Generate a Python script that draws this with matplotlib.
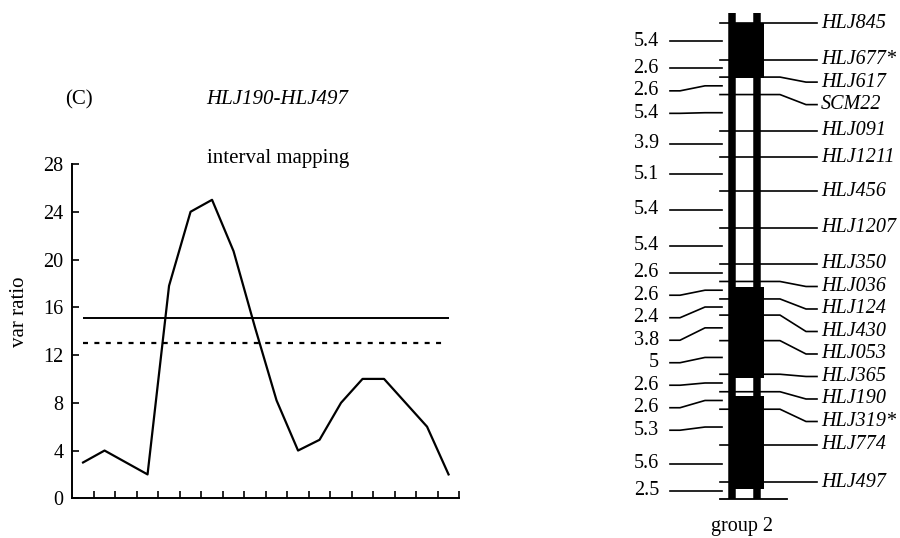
import numpy as np
import matplotlib
matplotlib.use("Agg")
import matplotlib.pyplot as plt

plt.rcParams['font.family'] = ['Liberation Serif', 'DejaVu Serif']
plt.rcParams['lines.scale_dashes'] = False

# ---------------- data: interval mapping (left) ----------------
positions = list(range(18))
var_ratio = [3.0, 4.0, 3.0, 2.0, 17.8, 24.0, 25.0, 20.7, 14.3, 8.2,
             4.0, 4.9, 8.0, 10.0, 10.0, 8.0, 6.0, 2.0]
threshold_solid = 15.1
threshold_dashed = 13.0
yticks = [0, 4, 8, 12, 16, 20, 24, 28]

# ---------------- data: linkage group 2 (right) ----------------
markers = ["HLJ845", "HLJ677*", "HLJ617", "SCM22", "HLJ091", "HLJ1211",
           "HLJ456", "HLJ1207", "HLJ350", "HLJ036", "HLJ124", "HLJ430",
           "HLJ053", "HLJ365", "HLJ190", "HLJ319*", "HLJ774", "HLJ497"]
intervals = [5.4, 2.6, 2.6, 5.4, 3.9, 5.1, 5.4, 5.4, 2.6, 2.6, 2.4, 3.8,
             5.0, 2.6, 2.6, 5.3, 5.6, 2.5]
qtl_blocks = [(0.0, 8.1), (39.2, 52.8), (55.5, 69.2)]

W, H = 900, 538
fig = plt.figure(figsize=(W / 100, H / 100), dpi=100)

def px(x, y):
    return x / W, 1 - y / H

# ---------------- map axes (full figure, x in pixels, y in cM) ----------------
marker_pos = np.concatenate([[0.0], np.cumsum(intervals)[:-1]])
group_end = float(np.sum(intervals))
top_px, end_px = 23.3, 499.3
scale = (end_px - top_px) / group_end  # px per cM
axm = fig.add_axes([0, 0, 1, 1])
axm.set_xlim(0, W)
axm.set_ylim((H - top_px) / scale, -top_px / scale)
axm.axis('off')
axm.patch.set_visible(False)

def spread(vals, gap):
    out = []
    for v in vals:
        if out and v < out[-1] + gap:
            v = out[-1] + gap
        out.append(v)
    return out

gap = 22.5 / scale
mids = [(a + b) / 2 for a, b in zip(marker_pos, list(marker_pos[1:]) + [group_end])]
left_lab = spread(mids, gap)
right_lab = spread(list(marker_pos), gap)

# chromosome bars
top_cm = -10 / scale
for xc, wpx in [(732.2, 7.5), (757.2, 7.5)]:
    axm.plot([xc, xc], [top_cm, group_end], color='black', lw=wpx * 0.72,
             solid_capstyle='butt')
for a, b in qtl_blocks:
    axm.fill_between([728.5, 764], a, b, color='black', lw=0)
axm.plot([720, 787], [group_end, group_end], color='black', lw=1.3)

# markers
for name, m, ly in zip(markers, marker_pos, right_lab):
    axm.plot([720, 780, 806, 817], [m, m, ly, ly], color='black', lw=1.2)
    axm.text(821, ly, name, fontsize=14.5, style='italic', ha='left',
             va='center')

# interval distances
for d, m, ly in zip(intervals, mids, left_lab):
    axm.plot([670, 680, 705, 722], [ly, ly, m, m], color='black', lw=1.2)
    axm.text(659, ly, f"{d:g}", fontsize=14.5, ha='right', va='center')

fig.text(*px(742, 527), "group 2", fontsize=14.5, ha='center', va='center')

# ---------------- interval mapping axes ----------------
ax = fig.add_axes([72.3 / W, (H - 498.3) / H, 387 / W, 334.3 / H])
ax.plot(positions, var_ratio, color='black', lw=1.6)
ax.hlines(threshold_solid, positions[0], positions[-1], color='black', lw=1.4)
ax.hlines(threshold_dashed, positions[0], positions[-1] - 0.3, color='black',
          lw=1.6, linestyles=(0, (3.6, 4.6)))
ax.set_xlim(-0.5, 17.5)
ax.set_ylim(0, 28)
ax.set_xticks(np.array(positions) + 0.5)
ax.set_xticklabels([])
ax.set_yticks(yticks)
ax.set_yticklabels([str(t) for t in yticks], fontsize=14.5)
ax.tick_params(direction='in', length=5, width=1.2, pad=6.5)
for s in ['top', 'right']:
    ax.spines[s].set_visible(False)
for s in ['left', 'bottom']:
    ax.spines[s].set_linewidth(1.4)

fig.text(*px(19, 312), "var ratio", fontsize=15, rotation=90, ha='center',
         va='center')
fig.text(*px(79, 100), "(C)", fontsize=15, ha='center', va='center')
fig.text(*px(277, 100), "HLJ190-HLJ497", fontsize=15, style='italic',
         ha='center', va='center')
fig.text(*px(278, 159), "interval mapping", fontsize=15, ha='center',
         va='center')

fig.savefig("out.png", dpi=100)
